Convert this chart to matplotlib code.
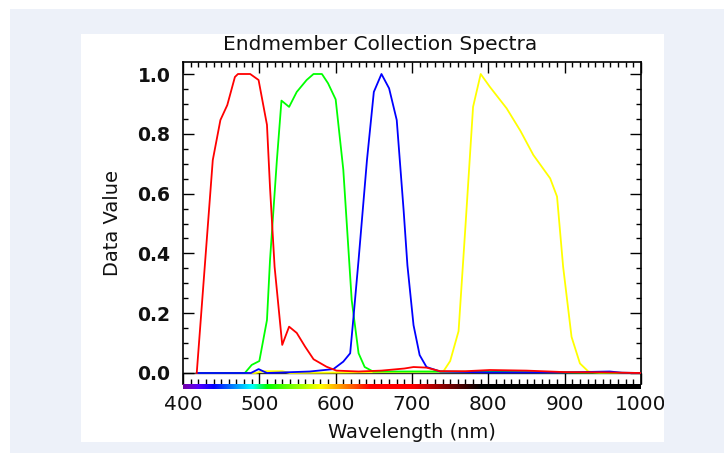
import numpy as np
import matplotlib
matplotlib.use("Agg")
import matplotlib.pyplot as plt
from matplotlib.patches import Rectangle
from matplotlib.ticker import MultipleLocator

# ---- data ----
red_wl = [418, 439, 449, 458, 468, 472, 488, 499, 510, 514, 520, 530, 539, 549, 560, 571, 588, 601,
          630, 660, 690, 702, 719, 737, 770, 802, 850, 900, 950, 1000]
red_val = [0.0, 0.712, 0.846, 0.896, 0.99, 1.0, 1.0, 0.98, 0.83, 0.62, 0.355, 0.094, 0.155, 0.134, 0.088,
           0.046, 0.021, 0.008, 0.005, 0.008, 0.015, 0.02, 0.018, 0.006, 0.006, 0.01, 0.008, 0.003, 0.002, 0.0]

green_wl = [418, 481, 490, 500, 510, 514, 523, 529, 539, 549, 562, 571, 582, 590, 600, 610, 621, 630,
            638, 649, 700, 800, 900, 1000]
green_val = [0.0, 0.0, 0.027, 0.04, 0.177, 0.378, 0.712, 0.911, 0.89, 0.94, 0.98, 1.0, 1.0, 0.969, 0.915,
             0.68, 0.244, 0.066, 0.02, 0.005, 0.005, 0.004, 0.002, 0.0]

blue_wl = [418, 481, 489, 499, 510, 566, 597, 610, 619, 623, 630, 641, 650, 660, 670, 680, 689, 694,
           702, 710, 719, 737, 800, 900, 959, 975, 1000]
blue_val = [0.0, 0.0, 0.0, 0.013, 0.0, 0.005, 0.013, 0.038, 0.066, 0.177, 0.378, 0.712, 0.94, 1.0, 0.952,
            0.846, 0.545, 0.36, 0.16, 0.06, 0.02, 0.005, 0.002, 0.002, 0.005, 0.001, 0.0]

yellow_wl = [418, 495, 505, 530, 540, 741, 750, 761, 770, 780, 790, 802, 824, 842, 859, 881, 890, 898,
             909, 920, 931, 946, 1000]
yellow_val = [0.0, 0.0, 0.006, 0.006, 0.0, 0.005, 0.04, 0.14, 0.49, 0.89, 1.0, 0.957, 0.885, 0.81, 0.729,
              0.651, 0.59, 0.355, 0.121, 0.032, 0.005, 0.0, 0.0]

x_ticks = [400, 500, 600, 700, 800, 900, 1000]
y_ticks = [0.0, 0.2, 0.4, 0.6, 0.8, 1.0]

title = "Endmember Collection Spectra"
xlabel = "Wavelength (nm)"
ylabel = "Data Value"


def wavelength_rgb(wl):
    wl = float(wl)
    if wl < 440:
        r, g, b = -(wl - 440) / (440 - 380), 0.0, 1.0
    elif wl < 490:
        r, g, b = 0.0, (wl - 440) / (490 - 440), 1.0
    elif wl < 510:
        r, g, b = 0.0, 1.0, -(wl - 510) / (510 - 490)
    elif wl < 580:
        r, g, b = (wl - 510) / (580 - 510), 1.0, 0.0
    elif wl < 645:
        r, g, b = 1.0, -(wl - 645) / (645 - 580), 0.0
    else:
        r, g, b = 1.0, 0.0, 0.0
    if wl < 420:
        f = 0.3 + 0.7 * (wl - 380) / (420 - 380)
    elif wl <= 700:
        f = 1.0
    elif wl <= 790:
        f = max(0.0, 1.0 - (wl - 700) / 90.0)
    else:
        f = 0.0
    return (r * f, g * f, b * f)


W, H = 724, 453
fig = plt.figure(figsize=(W / 100, H / 100), dpi=100)
fig.patch.set_facecolor("white")

# background panels
fig.patches.append(Rectangle((10 / W, 0), 1 - 10 / W, 1 - 9 / H, transform=fig.transFigure,
                             facecolor="#EDF1F9", edgecolor="none", zorder=-10))
fig.patches.append(Rectangle((81 / W, (H - 442) / H), (664 - 81) / W, (442 - 34) / H,
                             transform=fig.transFigure, facecolor="white", edgecolor="none", zorder=-9))

# main axes (box from y=62 to y=384 px, x from 183 to 641 px)
left, right = 183 / W, 641 / W
top_px, bot_px = 62, 384
ax = fig.add_axes([left, (H - bot_px) / H, right - left, (bot_px - top_px) / H])
ax.set_facecolor("white")

ax.axhline(0, color="#333333", lw=1.0, zorder=1)
ax.plot(yellow_wl, yellow_val, color="#FFFF00", lw=1.3, zorder=2)
ax.plot(green_wl, green_val, color="#00FF00", lw=1.3, zorder=3)
ax.plot(blue_wl, blue_val, color="#0000FF", lw=1.3, zorder=4)
ax.plot(red_wl, red_val, color="#FF0000", lw=1.3, zorder=5)

ax.set_xlim(400, 1000)
ax.set_ylim(-11 / 299, 1 + 12 / 299)
ax.set_yticks(y_ticks)
ax.set_yticklabels([f"{v:.1f}" for v in y_ticks])
ax.yaxis.set_minor_locator(MultipleLocator(0.05))
ax.set_xticks(x_ticks)
ax.xaxis.set_minor_locator(MultipleLocator(10))
ax.tick_params(axis="both", which="both", direction="in", top=True, right=True,
               labelbottom=False, color="black", width=1.0)
ax.tick_params(axis="both", which="major", length=8)
ax.tick_params(axis="both", which="minor", length=3.5)
ax.tick_params(axis="y", labelsize=13.5, pad=9, labelcolor="#111111")
for lab in ax.get_yticklabels():
    lab.set_fontweight("bold")
for s in ax.spines.values():
    s.set_color("black")
    s.set_linewidth(1.2)
ax.spines["bottom"].set_visible(False)

# color bar axes under the plot
cax = fig.add_axes([left, (H - 389) / H, right - left, 5 / H])
wls = np.linspace(400, 1000, 600)
cols = np.array([[wavelength_rgb(w) for w in wls]])
cax.imshow(cols, extent=[400, 1000, 0, 1], aspect="auto")
cax.set_xlim(400, 1000)
cax.set_ylim(0, 1)
cax.set_yticks([])
cax.set_xticks(x_ticks)
cax.set_xticklabels([str(v) for v in x_ticks])
cax.tick_params(axis="x", length=0, pad=4, labelsize=14.5, labelcolor="#111111")
for s in cax.spines.values():
    s.set_visible(False)

fig.text(380 / W, 1 - 44 / H, title, ha="center", va="center", fontsize=14.5, color="#111111")
fig.text(412 / W, 1 - 432 / H, xlabel, ha="center", va="center", fontsize=14, color="#111111")
fig.text(112 / W, 1 - 223 / H, ylabel, ha="center", va="center", rotation=90, fontsize=14,
         color="#111111")

# clip overflow to the right of the white panel
fig.patches.append(Rectangle((664 / W, 0), 1 - 664 / W, 1 - 9 / H, transform=fig.transFigure,
                             facecolor="#EDF1F9", edgecolor="none", zorder=50))

fig.savefig("out.png", dpi=100, facecolor=fig.get_facecolor())
